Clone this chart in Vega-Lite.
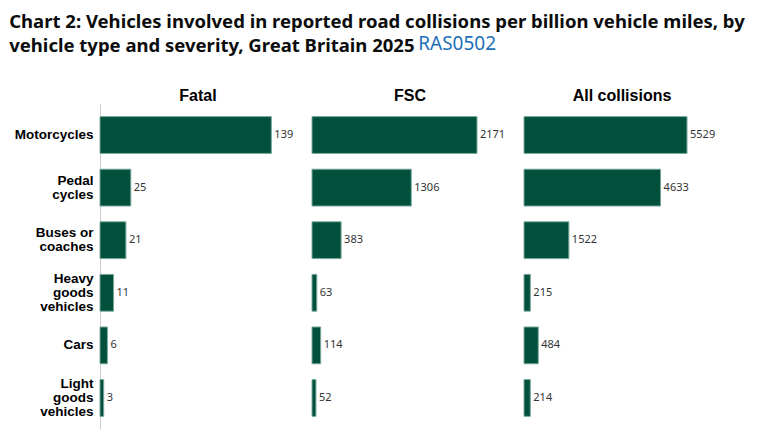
{
  "$schema": "https://vega.github.io/schema/vega-lite/v6.json",
  "background": "white",
  "padding": {"left": 9, "top": 12, "right": 5, "bottom": 5},
  "title": {
    "text": ["Chart 2: Vehicles involved in reported road collisions per billion vehicle miles, by", "vehicle type and severity, Great Britain 2025"],
    "anchor": "start",
    "frame": "bounds",
    "dx": -5,
    "font": "Noto Sans",
    "fontSize": 18.5,
    "fontWeight": "bold",
    "color": "#0b0c0c",
    "lineHeight": 24,
    "offset": -20
  },
  "datasets": {
    "d": [
      {"severity": "Fatal", "vehicle": "Motorcycles", "value": 139},
      {"severity": "Fatal", "vehicle": "Pedal|cycles", "value": 25},
      {"severity": "Fatal", "vehicle": "Buses or|coaches", "value": 21},
      {"severity": "Fatal", "vehicle": "Heavy|goods|vehicles", "value": 11},
      {"severity": "Fatal", "vehicle": "Cars", "value": 6},
      {"severity": "Fatal", "vehicle": "Light|goods|vehicles", "value": 3},
      {"severity": "FSC", "vehicle": "Motorcycles", "value": 2171},
      {"severity": "FSC", "vehicle": "Pedal|cycles", "value": 1306},
      {"severity": "FSC", "vehicle": "Buses or|coaches", "value": 383},
      {"severity": "FSC", "vehicle": "Heavy|goods|vehicles", "value": 63},
      {"severity": "FSC", "vehicle": "Cars", "value": 114},
      {"severity": "FSC", "vehicle": "Light|goods|vehicles", "value": 52},
      {"severity": "All collisions", "vehicle": "Motorcycles", "value": 5529},
      {"severity": "All collisions", "vehicle": "Pedal|cycles", "value": 4633},
      {"severity": "All collisions", "vehicle": "Buses or|coaches", "value": 1522},
      {"severity": "All collisions", "vehicle": "Heavy|goods|vehicles", "value": 215},
      {"severity": "All collisions", "vehicle": "Cars", "value": 484},
      {"severity": "All collisions", "vehicle": "Light|goods|vehicles", "value": 214}
    ]
  },
  "data": {"name": "d"},
  "config": {
    "view": {"stroke": null},
    "axis": {"grid": false}
  },
  "vconcat": [
    {
      "title": {"text": "RAS0502", "anchor": "start", "frame": "bounds", "dx": 404, "dy": -30, "font": "Noto Sans", "fontSize": 19, "fontWeight": "normal", "color": "#1d70b8", "offset": 4},
      "spacing": 15,
      "hconcat": [
        {
          "width": 196,
          "height": 325,
          "title": {"text": "Fatal", "font": "Liberation Sans", "fontSize": 16, "fontWeight": "bold", "color": "#000", "anchor": "middle", "offset": 0},
          "transform": [{"filter": "datum.severity === 'Fatal'"}],
          "encoding": {
            "y": {"field": "vehicle", "type": "nominal", "sort": ["Motorcycles", "Pedal|cycles", "Buses or|coaches", "Heavy|goods|vehicles", "Cars", "Light|goods|vehicles"],
              "scale": {"paddingInner": 0.3, "paddingOuter": 0.24},
              "axis": {"title": null, "ticks": false, "domainColor": "#cccccc", "labelPadding": 7, "labelFont": "Liberation Sans", "labelFontSize": 13.5, "labelFontWeight": "bold", "labelColor": "#000", "labelLineHeight": 14, "labelExpr": "split(datum.label, '|')",
                "labelOffset": {"condition": [{"test": "length(split(datum.value, '|')) == 3", "value": -14}, {"test": "length(split(datum.value, '|')) == 2", "value": -7}], "value": 0}}},
            "x": {"field": "value", "type": "quantitative", "scale": {"domain": [0, 159], "nice": false}, "axis": null}
          },
          "layer": [
            {"mark": {"type": "bar", "color": "#00503c", "stroke": "#7aa89c", "strokeWidth": 1}},
            {"mark": {"type": "text", "align": "left", "dx": 3, "font": "Noto Sans", "fontSize": 11, "color": "#333333"}, "encoding": {"text": {"field": "value", "type": "quantitative"}}}
          ]
        },
        {
          "width": 196,
          "height": 325,
          "title": {"text": "FSC", "font": "Liberation Sans", "fontSize": 16, "fontWeight": "bold", "color": "#000", "anchor": "middle", "offset": 0},
          "transform": [{"filter": "datum.severity === 'FSC'"}],
          "encoding": {
            "y": {"field": "vehicle", "type": "nominal", "sort": ["Motorcycles", "Pedal|cycles", "Buses or|coaches", "Heavy|goods|vehicles", "Cars", "Light|goods|vehicles"],
              "scale": {"paddingInner": 0.3, "paddingOuter": 0.24}, "axis": null},
            "x": {"field": "value", "type": "quantitative", "scale": {"domain": [0, 2579], "nice": false}, "axis": null}
          },
          "layer": [
            {"mark": {"type": "bar", "color": "#00503c", "stroke": "#7aa89c", "strokeWidth": 1}},
            {"mark": {"type": "text", "align": "left", "dx": 3, "font": "Noto Sans", "fontSize": 11, "color": "#333333"}, "encoding": {"text": {"field": "value", "type": "quantitative"}}}
          ]
        },
        {
          "width": 196,
          "height": 325,
          "title": {"text": "All collisions", "font": "Liberation Sans", "fontSize": 16, "fontWeight": "bold", "color": "#000", "anchor": "middle", "offset": 0},
          "transform": [{"filter": "datum.severity === 'All collisions'"}],
          "encoding": {
            "y": {"field": "vehicle", "type": "nominal", "sort": ["Motorcycles", "Pedal|cycles", "Buses or|coaches", "Heavy|goods|vehicles", "Cars", "Light|goods|vehicles"],
              "scale": {"paddingInner": 0.3, "paddingOuter": 0.24}, "axis": null},
            "x": {"field": "value", "type": "quantitative", "scale": {"domain": [0, 6648], "nice": false}, "axis": null}
          },
          "layer": [
            {"mark": {"type": "bar", "color": "#00503c", "stroke": "#7aa89c", "strokeWidth": 1}},
            {"mark": {"type": "text", "align": "left", "dx": 3, "font": "Noto Sans", "fontSize": 11, "color": "#333333"}, "encoding": {"text": {"field": "value", "type": "quantitative"}}}
          ]
        }
      ]
    }
  ]
}
